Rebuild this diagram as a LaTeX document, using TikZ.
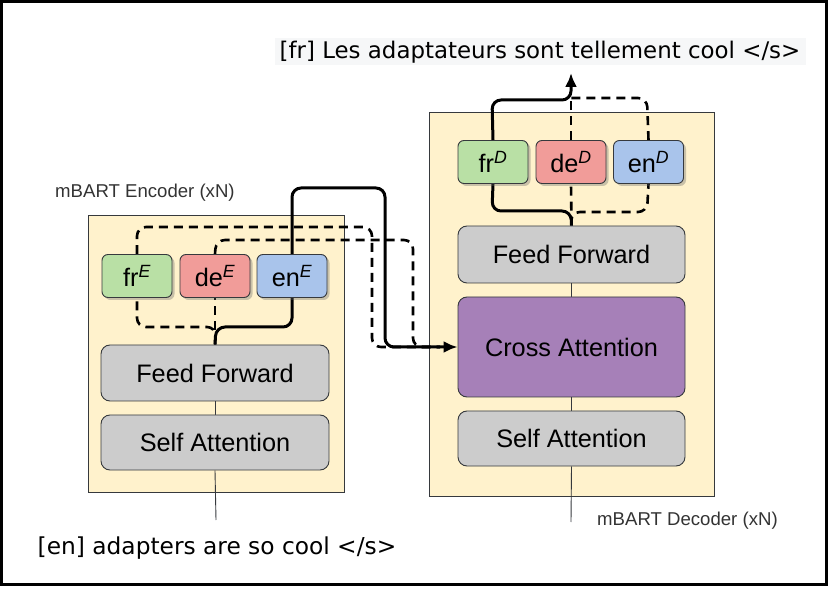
\documentclass[tikz,border=0pt]{standalone}
\usepackage{fontspec}
\setmainfont{Liberation Sans}
\newfontfamily\seqfont{DejaVu Sans}
\usetikzlibrary{shadows,arrows.meta}
\definecolor{contfill}{HTML}{FFF2CC}
\definecolor{modgray}{HTML}{CCCCCC}
\definecolor{purp}{HTML}{A680B8}
\definecolor{grn}{HTML}{B9E0A5}
\definecolor{rd}{HTML}{F19C99}
\definecolor{blu}{HTML}{A9C4EB}
\definecolor{edge}{HTML}{36393D}
\definecolor{seqbg}{HTML}{F6F7F8}
\pgfdeclarelayer{bg}
\pgfdeclarelayer{conn}
\pgfsetlayers{bg,conn,main}
\tikzset{
  container/.style={draw=edge, fill=contfill, line width=0.9pt},
  module/.style={draw=edge, fill=modgray, rounded corners=9pt, line width=0.9pt, font=\fontsize{25.3}{28}\selectfont, inner sep=0pt},
  adapter/.style={draw=edge, rounded corners=6pt, line width=0.9pt, font=\fontsize{25.3}{28}\selectfont, inner sep=0pt,
     minimum width=70pt, minimum height=43pt,
     drop shadow={shadow xshift=2.5pt, shadow yshift=-2.5pt, opacity=0.35, fill=black!60}},
  solidconn/.style={line width=3pt, rounded corners=9pt},
  dashconn/.style={line width=2.6pt, rounded corners=9pt, dash pattern=on 9pt off 6pt},
  thinconn/.style={line width=0.9pt, draw=edge},
  lbl/.style={font=\fontsize{18.6}{21}\selectfont, text=black!80, inner sep=0pt},
  seq/.style={font=\seqfont, inner sep=0pt},
}
\newcommand{\adsup}[1]{\textsuperscript{\itshape #1}}
\begin{document}
\begin{tikzpicture}[x=1pt, y=-1pt]
\useasboundingbox (0,0) rectangle (830,601);
\draw[line width=3pt] (1.5,1.5) rectangle (826.5,584.5);

% containers
\begin{pgfonlayer}{bg}
\node[container, anchor=north west, minimum width=256pt, minimum height=277pt, inner sep=0pt] (enc) at (88,215) {};
\node[container, anchor=north west, minimum width=285pt, minimum height=384pt, inner sep=0pt] (dec) at (429,112) {};
\fill[seqbg] (275,38) rectangle (806,65);
\end{pgfonlayer}

% encoder modules
\node[module, minimum width=228pt, minimum height=56pt] (eff) at (215,373) {Feed Forward};
\node[module, minimum width=228pt, minimum height=55pt] (esa) at (215,442.5) {Self Attention};
\node[adapter, fill=grn] (frE) at (137,276) {fr\adsup{E}};
\node[adapter, fill=rd] (deE) at (215,276) {de\adsup{E}};
\node[adapter, fill=blu] (enE) at (292,276) {en\adsup{E}};

% decoder modules
\node[module, minimum width=227pt, minimum height=57pt] (dff) at (571.5,254.5) {Feed Forward};
\node[module, fill=purp, minimum width=227pt, minimum height=100pt] (ca) at (571.5,347) {Cross Attention};
\node[module, minimum width=227pt, minimum height=55pt] (dsa) at (571.5,438.5) {Self Attention};
\node[adapter, fill=grn] (frD) at (493,162) {fr\adsup{D}};
\node[adapter, fill=rd] (deD) at (571,162) {de\adsup{D}};
\node[adapter, fill=blu] (enD) at (648.5,162) {en\adsup{D}};

% labels
\node[lbl, anchor=west] (elab) at (55,193) {mBART Encoder (xN)};
\node[lbl, anchor=west] (dlab) at (597,521) {mBART Decoder (xN)};
\node[seq, font=\seqfont\fontsize{23.3}{26}\selectfont] (src) at (217,548) {[en] adapters are so cool </s>};
\node[seq, font=\seqfont\fontsize{22.9}{26}\selectfont] (tgt) at (540,52) {[fr] Les adaptateurs sont tellement cool </s>};
\coordinate (srcend) at (216,520);
\coordinate (dstart) at (571,522);
\coordinate (out) at (571,73);

\begin{pgfonlayer}{conn}
% thin flow lines
\draw[thinconn] (srcend) -- (esa.south);
\draw[thinconn] (esa.north) -- (eff.south);
\draw[thinconn] (dstart) -- (dsa.south);
\draw[thinconn] (dsa.north) -- (ca.south);
\draw[thinconn] (ca.north) -- (dff.south);

% encoder dashed routes
\draw[dashconn] (eff.north) -- (216,327) -- (137,327) -- (frE.south);
\draw[dashconn] (frE.north) -- (137,227) -- (372,227) -- (372,347) -- (440,347);
\draw[dashconn] (eff.north) -- (deE.south);
\draw[dashconn] (deE.north) -- (216,240) -- (413,240) -- (413,347) -- (440,347);
% encoder solid route
\draw[solidconn] (eff.north) -- (216,327) -- (292,327) -- (enE.south);
\draw[solidconn, -{Latex[length=14pt,width=12pt]}] (enE.north) -- (292,188) -- (385,188) -- (385,347) -- (ca.west);

% decoder dashed routes
\draw[dashconn] (dff.north) -- (deD.south);
\draw[dashconn] (deD.north) -- (571,100);
\draw[dashconn] (dff.north) -- (571,212) -- (647,212) -- (enD.south);
\draw[dashconn] (enD.north) -- (647,98) -- (571,98);
% decoder solid route
\draw[solidconn] (dff.north) -- (571,211) -- (492,211) -- (frD.south);
\draw[solidconn, -{Latex[length=14pt,width=12pt]}] (frD.north) -- (492,100) -- (571,100) -- (out);
\end{pgfonlayer}
\end{tikzpicture}
\end{document}
